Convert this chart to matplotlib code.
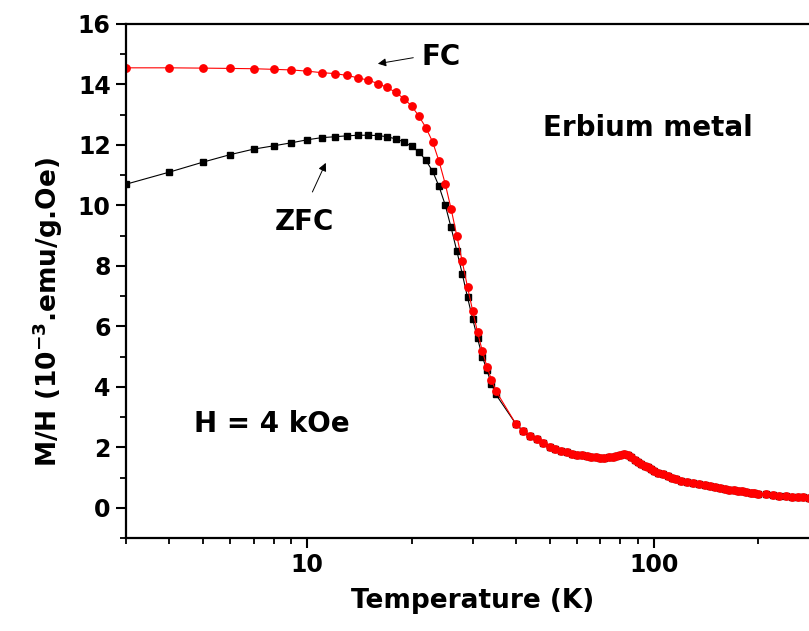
import numpy as np
import matplotlib
matplotlib.use('Agg')
import matplotlib.pyplot as plt
from matplotlib.ticker import LogLocator, MultipleLocator, FixedLocator, NullFormatter

plt.rcParams['font.family'] = ['DejaVu Sans']
plt.rcParams['font.weight'] = 'bold'
plt.rcParams['mathtext.fontset'] = 'custom'
plt.rcParams['mathtext.rm'] = 'DejaVu Sans:bold'
plt.rcParams['mathtext.bf'] = 'DejaVu Sans:bold'
plt.rcParams['mathtext.default'] = 'bf'

# low temperature part, 1 K steps (K, 10^-3 emu/g.Oe)
tLow = [3, 4, 5, 6, 7, 8, 9, 10, 11, 12, 13, 14, 15, 16, 17, 18, 19, 20,
        21, 22, 23, 24, 25, 26, 27, 28, 29, 30, 31, 32, 33, 34, 35]
fcLow = [14.55, 14.55, 14.54, 14.53, 14.52, 14.50, 14.48, 14.44, 14.39, 14.36,
         14.30, 14.22, 14.14, 14.03, 13.90, 13.74, 13.53, 13.29, 12.95, 12.57,
         12.10, 11.46, 10.72, 9.89, 9.00, 8.15, 7.30, 6.52, 5.80, 5.18,
         4.67, 4.23, 3.87]
zfcLow = [10.70, 11.10, 11.43, 11.68, 11.86, 11.97, 12.07, 12.17, 12.24, 12.27,
          12.30, 12.32, 12.32, 12.31, 12.27, 12.20, 12.10, 11.95, 11.77, 11.49,
          11.13, 10.63, 10.02, 9.27, 8.50, 7.74, 6.96, 6.25, 5.60, 5.00,
          4.54, 4.10, 3.75]

# above ~40 K both curves coincide
tHigh = [40, 42, 44, 46, 48, 50, 52, 54, 56, 58, 60, 62, 64, 66, 68, 70, 72, 74,
         76, 78, 80, 82, 84, 86, 88, 90, 92, 94, 96, 98, 100, 103, 106, 110, 113,
         116, 120, 125, 130, 135, 140, 145, 150, 155, 160, 165, 170, 175, 180,
         185, 190, 195, 200, 210, 220, 230, 240, 250, 260, 270, 280, 290, 300]
mHigh = [2.77, 2.53, 2.38, 2.27, 2.14, 2.02, 1.95, 1.89, 1.84, 1.79, 1.76, 1.73,
         1.71, 1.69, 1.67, 1.66, 1.66, 1.67, 1.69, 1.72, 1.76, 1.78, 1.75, 1.67,
         1.57, 1.50, 1.44, 1.39, 1.35, 1.28, 1.23, 1.16, 1.10, 1.04, 1.00, 0.96,
         0.90, 0.86, 0.81, 0.77, 0.74, 0.71, 0.68, 0.65, 0.63, 0.60, 0.58, 0.56,
         0.54, 0.52, 0.50, 0.49, 0.47, 0.45, 0.42, 0.40, 0.38, 0.36, 0.35, 0.34,
         0.33, 0.32, 0.31]

T_fc = tLow + tHigh
M_fc = fcLow + mHigh
T_zfc = tLow + tHigh
M_zfc = zfcLow + mHigh

fig = plt.figure(figsize=(8.09, 6.31), dpi=100)
ax = fig.add_axes([0.1557, 0.1474, 0.857, 0.8146])

ax.plot(T_zfc, M_zfc, color='black', lw=0.8, marker='s', ms=4.8, mec='black', mfc='black')
ax.plot(T_fc, M_fc, color='red', lw=0.8, marker='o', ms=5.3, mec='red', mfc='red')

ax.set_xscale('log')
ax.set_xlim(3, 300)
ax.set_ylim(-1, 16)
ax.xaxis.set_major_locator(FixedLocator([10, 100]))
ax.xaxis.set_minor_locator(LogLocator(base=10, subs=np.arange(2, 10)))
ax.xaxis.set_minor_formatter(NullFormatter())
ax.set_xticklabels(['10', '100'])
ax.yaxis.set_major_locator(MultipleLocator(2))
ax.yaxis.set_minor_locator(MultipleLocator(1))

ax.spines['right'].set_visible(False)
for s in ['left', 'bottom', 'top']:
    ax.spines[s].set_linewidth(1.6)
ax.tick_params(which='major', direction='out', length=7, width=1.5, labelsize=17, pad=4)
ax.tick_params(which='minor', direction='out', length=4, width=1.3)
ax.tick_params(axis='x', top=False, which='both')

ax.set_xlabel('Temperature (K)', fontsize=19, fontweight='bold', labelpad=8)
ax.set_ylabel('M/H (10$^{-3}$.emu/g.Oe)', fontsize=19, fontweight='bold', va='center')
ax.yaxis.set_label_coords(-0.113, 0.44)

ax.text(96, 12.55, 'Erbium metal', fontsize=20, fontweight='bold', ha='center', va='center')
ax.text(7.9, 2.78, 'H = 4 kOe', fontsize=20, fontweight='bold', ha='center', va='center')

ax.annotate('', xy=(15.7, 14.67), xytext=(20.6, 14.9),
            arrowprops=dict(arrowstyle='-|>', color='black', lw=0.7, mutation_scale=12))
ax.text(24.4, 14.9, 'FC', fontsize=20, fontweight='bold', ha='center', va='center')
ax.annotate('', xy=(11.4, 11.49), xytext=(10.27, 10.36),
            arrowprops=dict(arrowstyle='-|>', color='black', lw=0.7, mutation_scale=12))
ax.text(9.8, 9.44, 'ZFC', fontsize=20, fontweight='bold', ha='center', va='center')

plt.savefig('out.png', dpi=100)
